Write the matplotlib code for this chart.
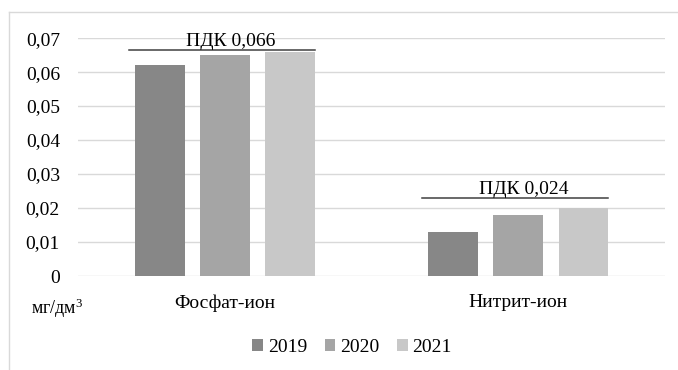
import numpy as np
import matplotlib.pyplot as plt
from matplotlib.lines import Line2D

plt.rcParams['font.family'] = ['Liberation Serif', 'DejaVu Serif']
plt.rcParams['mathtext.fontset'] = 'custom'
plt.rcParams['mathtext.rm'] = 'Liberation Serif'
plt.rcParams['mathtext.it'] = 'Liberation Serif'

categories = ['Фосфат-ион', 'Нитрит-ион']
years = ['2019', '2020', '2021']
values = {
    '2019': [0.062, 0.013],
    '2020': [0.065, 0.018],
    '2021': [0.066, 0.020],
}
colors = ['#878787', '#a5a5a5', '#c8c8c8']
pdk_values = [0.0665, 0.023]
pdk_labels = ['ПДК 0,066', 'ПДК 0,024']
yticks = [0, 0.01, 0.02, 0.03, 0.04, 0.05, 0.06, 0.07]
ytick_labels = ['0', '0,01', '0,02', '0,03', '0,04', '0,05', '0,06', '0,07']
fs = 14

fig = plt.figure(figsize=(6.78, 3.70), dpi=100)
ax = fig.add_axes([0.115, 0.254, 0.866, 0.643])

x = np.arange(len(categories))
width = 0.17
step = 0.222
for k, yr in enumerate(years):
    ax.bar(x + (k - 1) * step, values[yr], width, color=colors[k], label=yr, zorder=3)

# PDK lines
for i, (v, lab) in enumerate(zip(pdk_values, pdk_labels)):
    ax.plot([x[i] - step - width / 2 - 0.02, x[i] + step + width / 2], [v, v],
            color='#404040', lw=1.1, zorder=4)
    ax.text(x[i] + 0.02, v - 0.0001, lab, ha='center', va='bottom', fontsize=fs, zorder=5)

ax.set_xlim(-0.5, 1.5)
ax.set_ylim(0, 0.07)
ax.set_yticks(yticks)
ax.set_yticklabels(ytick_labels, fontsize=fs)
ax.set_xticks(x)
ax.set_xticklabels(categories, fontsize=fs)
ax.tick_params(axis='both', length=0)
ax.tick_params(axis='y', pad=13)
ax.tick_params(axis='x', pad=13)
ax.grid(axis='y', color='#d9d9d9', lw=1, zorder=0)
for s in ax.spines.values():
    s.set_visible(False)

fig.text(0.045, 0.168, 'мг/дм$^3$', fontsize=fs - 1, va='center')

ax.legend(loc='center', bbox_to_anchor=(0.467, -0.3), bbox_transform=ax.transAxes,
          ncol=3, frameon=False, fontsize=fs, handlelength=0.55, handleheight=0.55,
          handletextpad=0.25, columnspacing=0.9)

# outer frame
fig.add_artist(Line2D([0.014, 0.014], [0, 0.968], color='#d9d9d9', lw=1, transform=fig.transFigure))
fig.add_artist(Line2D([0.014, 1.0], [0.968, 0.968], color='#d9d9d9', lw=1, transform=fig.transFigure))

fig.savefig('out.png', dpi=100)
